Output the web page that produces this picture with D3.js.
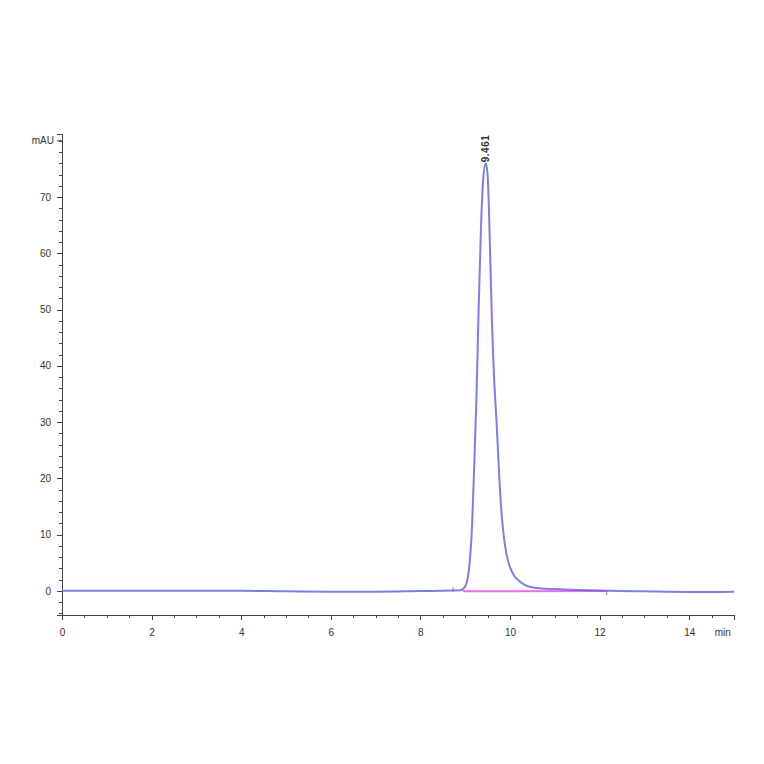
<!DOCTYPE html>
<meta charset="utf-8">

<script src="https://cdn.jsdelivr.net/npm/d3@7/dist/d3.min.js"></script>

<style>
    body {
        margin: 0;
        background: #fff;
    }

    .axis text {
        font: 10px "Liberation Sans", Arial, sans-serif;
        fill: #333;
    }

    .axis path,
    .axis line {
        fill: none;
        stroke: #444;
        shape-rendering: crispEdges;
    }

    .unit {
        font: 10px "Liberation Sans", Arial, sans-serif;
        fill: #333;
    }

    .peak-label {
        font: bold 10px "Liberation Sans", Arial, sans-serif;
        letter-spacing: 0.5px;
        fill: #333;
    }
</style>

<body>
    <svg class="chart"></svg>
</body>

<script>
    ///////////////////////
    // Data
    var times = [0, 1, 2, 3, 4, 5, 6, 7, 8, 8.5, 8.7, 8.9, 9.0, 9.05, 9.1, 9.15, 9.2, 9.25,
        9.3, 9.35, 9.4, 9.46, 9.5, 9.55, 9.6, 9.65, 9.7, 9.75, 9.8, 9.85, 9.9, 9.95,
        10.0, 10.1, 10.2, 10.3, 10.4, 10.6, 10.8, 11.0, 11.5, 12.0, 12.2, 13.0, 14.0, 14.5, 15.0];
    var absorbance = [0.0, 0.0, 0.0, 0.0, 0.0, -0.1, -0.15, -0.15, -0.05, 0.0, 0.05, 0.1, 0.8, 2, 5, 11, 22, 34,
        50, 64, 73, 76, 74, 62, 47, 37, 30, 22, 15, 10.5, 7.5, 5.5,
        4.2, 2.6, 1.8, 1.2, 0.8, 0.5, 0.35, 0.3, 0.15, 0.05, 0.0, -0.1, -0.2, -0.2, -0.15];

    // integration baseline of the peak
    var baseTimes = [8.95, 12.16];
    var baseValues = [-0.1, -0.05];

    var peakTime = 9.461;
    var peakHeight = 76;
    var peakName = "9.461";

    var xTicks = [0, 2, 4, 6, 8, 10, 12, 14];
    var yTicks = [0, 10, 20, 30, 40, 50, 60, 70];
    var xUnit = "min";
    var yUnit = "mAU";

    ///////////////////////
    // Chart Size Setup
    var W = 764,
        H = 764;

    var chart = d3.select(".chart")
        .attr("width", W)
        .attr("height", H);

    ///////////////////////
    // Scales
    var x = d3.scaleLinear()
        .domain([0, 15])
        .range([62, 734]);

    var y = d3.scaleLinear()
        .domain([-4.3, 81.2])
        .range([615, 134]);

    ///////////////////////
    // Axis
    var xAxis = d3.axisBottom(x)
        .tickValues(xTicks)
        .tickSize(5)
        .tickFormat(d3.format("d"));

    var xMinor = d3.axisBottom(x)
        .tickValues(d3.range(0, 15.01, 0.5))
        .tickSize(3)
        .tickFormat("");

    var yAxis = d3.axisLeft(y)
        .tickValues(yTicks)
        .tickSize(5)
        .tickFormat(d3.format("d"));

    var yMinor = d3.axisLeft(y)
        .tickValues(d3.range(-4, 81, 2))
        .tickSize(3)
        .tickFormat("");

    chart.append("g")
        .attr("class", "x axis")
        .attr("transform", "translate(0," + y(-4.3) + ")")
        .call(xMinor);

    chart.append("g")
        .attr("class", "x axis")
        .attr("transform", "translate(0," + y(-4.3) + ")")
        .call(xAxis)
        .selectAll("text")
        .attr("dy", "1.25em");

    chart.append("g")
        .attr("class", "y axis")
        .attr("transform", "translate(" + x(0) + ",0)")
        .call(yMinor);

    chart.append("g")
        .attr("class", "y axis")
        .attr("transform", "translate(" + x(0) + ",0)")
        .call(yAxis)
        .selectAll("text")
        .attr("dx", "-0.3em");

    // unit labels
    chart.append("line")
        .attr("x1", x(0) - 5)
        .attr("x2", x(0))
        .attr("y1", y(80))
        .attr("y2", y(80))
        .attr("stroke", "#444");

    chart.append("text")
        .attr("class", "unit")
        .attr("text-anchor", "end")
        .attr("x", x(0) - 8)
        .attr("y", y(80))
        .attr("dy", "0.32em")
        .text(yUnit);

    chart.append("text")
        .attr("class", "unit")
        .attr("text-anchor", "middle")
        .attr("x", x(14.75))
        .attr("y", y(-4.3) + 21)
        .text(xUnit);

    ///////////////////////
    // Lines
    var line = d3.line()
        .x(function(d, i) { return x(times[i]); })
        .y(function(d) { return y(d); })
        .curve(d3.curveMonotoneX);

    var baseLine = d3.line()
        .x(function(d, i) { return x(baseTimes[i]); })
        .y(function(d) { return y(d); });

    chart.append("path")
        .datum(baseValues)
        .attr("fill", "none")
        .attr("stroke", "#f46ae0")
        .attr("stroke-width", 2)
        .attr("d", baseLine);

    chart.append("path")
        .datum(absorbance)
        .attr("fill", "none")
        .attr("stroke", "#5e5ee6")
        .attr("stroke-opacity", 0.8)
        .attr("stroke-width", 2)
        .attr("stroke-linejoin", "round")
        .attr("d", line);

    // start / end markers of the integration
    chart.append("line")
        .attr("x1", x(8.73)).attr("x2", x(8.73))
        .attr("y1", y(0.6)).attr("y2", y(-0.2))
        .attr("stroke", "#777");

    chart.append("line")
        .attr("x1", x(12.16)).attr("x2", x(12.16))
        .attr("y1", y(0.1)).attr("y2", y(-0.8))
        .attr("stroke", "#777");

    ///////////////////////
    // Peak label
    chart.append("text")
        .attr("class", "peak-label")
        .attr("transform", "translate(" + (x(peakTime) + 3.5) + "," + (y(peakHeight) - 1) + ") rotate(-90)")
        .text(peakName);
</script>
